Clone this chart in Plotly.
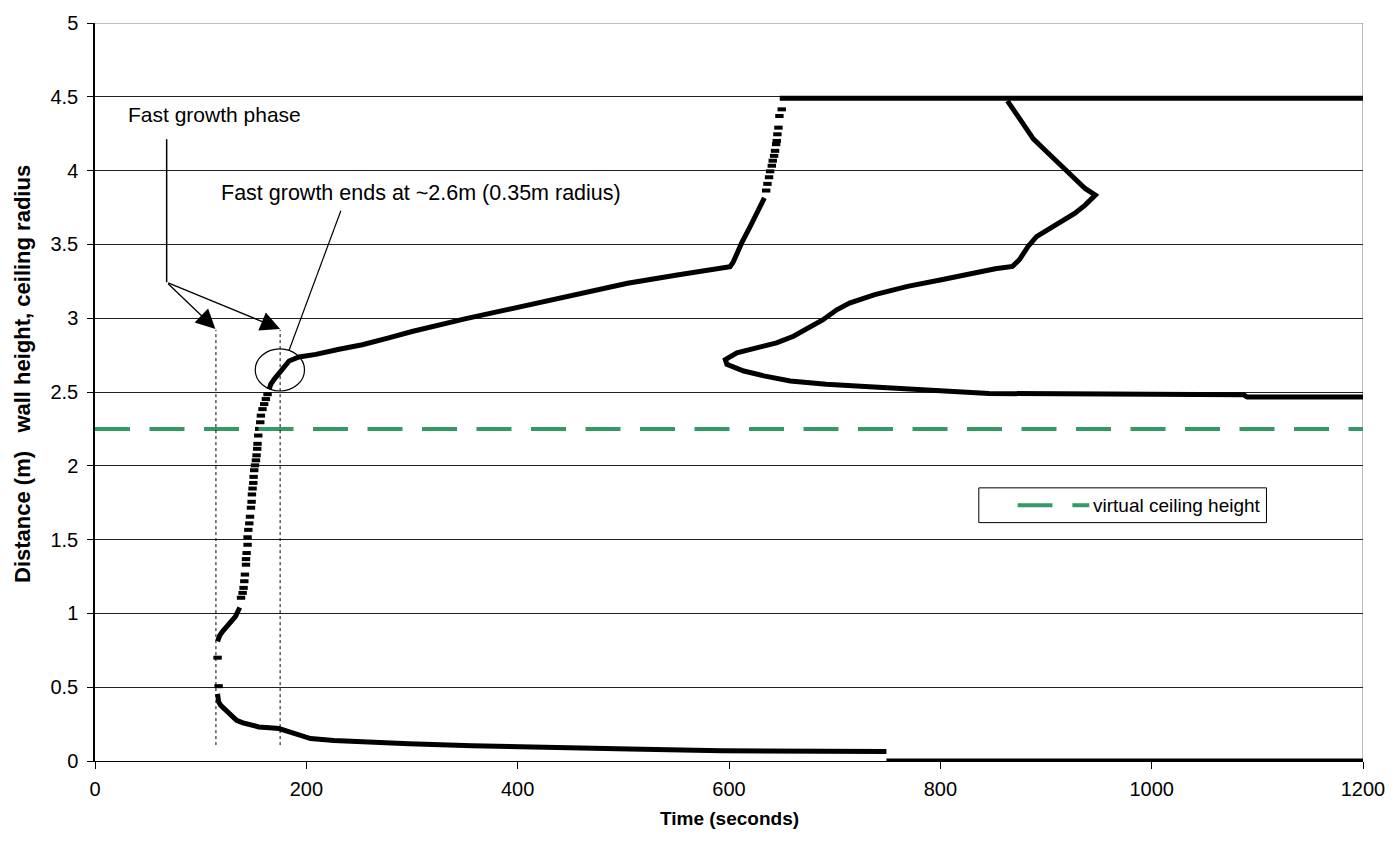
import plotly.graph_objects as go

# ---------------- data ----------------
# wall height: early dense run
wall_a_x = [116, 118, 121, 125, 129, 133, 137]
wall_a_y = [0.81, 0.85, 0.88, 0.91, 0.94, 0.98, 1.04]

# wall height: sparse (fast growth) samples
wall_sparse_x = [117, 116, 138.2, 139.7, 140.6, 141.3, 141.9, 142.9, 142.9, 143.5, 144.4, 144.4,
                 145.1, 146.0, 146.7, 147.6, 148.2, 148.5, 149.1, 149.8, 150.1, 150.7, 151.4,
                 152.3, 152.9, 153.5, 153.8, 154.5, 155.4, 156.4, 157.0, 158.5, 160.1, 161.7,
                 163.3, 635.2, 636.4, 637.9, 638.9, 640.5, 641.4, 642.7, 643.6, 644.6, 645.2,
                 645.8, 646.8, 647.7, 649.9]
wall_sparse_y = [0.507, 0.70, 1.106, 1.139, 1.173, 1.218, 1.263, 1.330, 1.368, 1.409, 1.465, 1.516,
                 1.566, 1.610, 1.655, 1.716, 1.756, 1.806, 1.846, 1.884, 1.925, 1.970, 2.003,
                 2.037, 2.071, 2.115, 2.149, 2.205, 2.250, 2.295, 2.340, 2.384, 2.418, 2.452,
                 2.485, 3.865, 3.910, 3.955, 3.995, 4.033, 4.067, 4.100, 4.134, 4.179, 4.201,
                 4.246, 4.291, 4.370, 4.415]

# wall height: slow growth dense run
wall_b_x = [164.8, 166.4, 169.5, 172.7, 177.4, 183.7, 193, 209, 231, 253, 278, 300, 350, 400,
            457, 504, 551, 601, 604, 607, 612, 620, 629, 633.5]
wall_b_y = [2.519, 2.553, 2.586, 2.613, 2.665, 2.71, 2.737, 2.755, 2.79, 2.82, 2.867, 2.91, 2.995,
            3.075, 3.17, 3.237, 3.293, 3.349, 3.38, 3.43, 3.51, 3.62, 3.74, 3.815]

# wall height reaches ceiling
ceiling_x = [648, 1200]
ceiling_y = [4.49, 4.49]

# second front (returning curve)
front_x = [863.5, 871.7, 879.8, 888, 897.7, 907.5, 917.4, 927.1, 937, 946.7, 937, 927.1, 915.7,
           904.2, 891, 883, 874.8, 868.3, 852, 833, 801, 769, 738, 714, 702, 689, 677, 661, 645,
           626, 607.5, 596.5, 598, 614, 633, 658, 692, 733, 780, 846, 1087, 1090.5, 1200]
front_y = [4.473, 4.383, 4.293, 4.215, 4.148, 4.08, 4.013, 3.946, 3.879, 3.834, 3.766, 3.71, 3.665,
           3.61, 3.553, 3.486, 3.396, 3.351, 3.335, 3.305, 3.26, 3.216, 3.16, 3.102, 3.057, 2.99,
           2.945, 2.878, 2.833, 2.80, 2.766, 2.72, 2.687, 2.642, 2.609, 2.575, 2.553, 2.535, 2.515,
           2.49, 2.481, 2.466, 2.466]

# ceiling radius
radius_x = [116, 117, 119, 124, 129, 134, 140, 149, 155, 165, 174, 184, 196, 204, 226, 256, 297,
            357, 424, 506, 593, 749]
radius_y = [0.455, 0.40, 0.377, 0.343, 0.31, 0.276, 0.258, 0.242, 0.231, 0.226, 0.22, 0.197,
            0.166, 0.152, 0.139, 0.128, 0.117, 0.103, 0.090, 0.081, 0.070, 0.064]
radius_end_x = [749, 1200]
radius_end_y = [0, 0]

# virtual ceiling height
virtual_x = [0, 1200]
virtual_y = [2.25, 2.25]

x_ticks = [0, 200, 400, 600, 800, 1000, 1200]
y_ticks = [0, 0.5, 1, 1.5, 2, 2.5, 3, 3.5, 4, 4.5, 5]

# ---------------- layout helpers ----------------
W, H = 1397, 849
L, R, T, B = 95, 1369, 18, 761
FONT = "Liberation Sans, Arial, sans-serif"


def dx(px):
    return (px - L) * 1200.0 / (R - L)


def dy(py):
    return (B - py) * 5.0 / (B - T)


GREEN = "#339966"
fig = go.Figure()

line_style = dict(color="black", width=5)
for xs, ys in [(wall_a_x, wall_a_y), (wall_b_x, wall_b_y), (ceiling_x, ceiling_y),
               (front_x, front_y), (radius_x, radius_y), (radius_end_x, radius_end_y)]:
    fig.add_trace(go.Scatter(x=xs, y=ys, mode="lines", line=line_style,
                             showlegend=False, hoverinfo="skip"))

fig.add_trace(go.Scatter(x=wall_sparse_x, y=wall_sparse_y, mode="markers",
                         marker=dict(symbol="line-ew", size=6,
                                     line=dict(color="black", width=4)),
                         showlegend=False, hoverinfo="skip"))

fig.add_trace(go.Scatter(x=virtual_x, y=virtual_y, mode="lines", name="virtual ceiling height",
                         line=dict(color=GREEN, width=4, dash="35px,19.5px"),
                         showlegend=False, hoverinfo="skip"))

shapes = []
# plot border (top/right)
shapes.append(dict(type="line", xref="x", yref="y", x0=0, x1=1200, y0=5, y1=5,
                   line=dict(color="#808080", width=1), layer="above"))
shapes.append(dict(type="line", xref="x", yref="y", x0=1200, x1=1200, y0=0, y1=5,
                   line=dict(color="#808080", width=1), layer="below"))
# dotted guide lines
for gx in [dx(216.5), dx(281)]:
    shapes.append(dict(type="line", xref="x", yref="y", x0=gx, x1=gx, y0=dy(745), y1=dy(327),
                       line=dict(color="black", width=1, dash="dot")))
# callout stem
shapes.append(dict(type="line", xref="x", yref="y", x0=dx(167), x1=dx(167), y0=dy(135), y1=dy(279),
                   line=dict(color="black", width=1.5)))
# circle
shapes.append(dict(type="circle", xref="x", yref="y", x0=dx(256), x1=dx(305.5), y0=dy(388.5), y1=dy(346),
                   line=dict(color="black", width=1.2)))
# diagonal pointer
shapes.append(dict(type="line", xref="x", yref="y", x0=dx(290), x1=dx(342), y0=dy(347.5), y1=dy(207),
                   line=dict(color="black", width=1.2)))
# custom legend
lg_l, lg_r, lg_t, lg_b = 983, 1272, 486, 521
shapes.append(dict(type="rect", xref="x", yref="y", x0=dx(lg_l), x1=dx(lg_r), y0=dy(lg_b), y1=dy(lg_t),
                   line=dict(color="black", width=1), fillcolor="white", layer="above"))
lg_mid = (lg_t + lg_b) / 2
for a, b in [(1022, 1057), (1077, 1094)]:
    shapes.append(dict(type="line", xref="x", yref="y", x0=dx(a), x1=dx(b), y0=dy(lg_mid), y1=dy(lg_mid),
                       line=dict(color=GREEN, width=4), layer="above"))

annotations = []
annotations.append(dict(x=dx(1096), y=dy(lg_mid), xref="x", yref="y", text="virtual ceiling height",
                        showarrow=False, xanchor="left", yanchor="middle",
                        font=dict(family=FONT, size=19, color="black")))
annotations.append(dict(x=dx(126), y=dy(110), xref="x", yref="y", text="Fast growth phase",
                        showarrow=False, xanchor="left", yanchor="middle",
                        font=dict(family=FONT, size=21, color="black")))
annotations.append(dict(x=dx(220), y=dy(189), xref="x", yref="y",
                        text="Fast growth ends at ~2.6m (0.35m radius)",
                        showarrow=False, xanchor="left", yanchor="middle",
                        font=dict(family=FONT, size=21.5, color="black")))
for tipx in [216, 281]:
    annotations.append(dict(x=dx(tipx), y=dy(326), xref="x", yref="y",
                            ax=dx(167), ay=dy(279), axref="x", ayref="y",
                            showarrow=True, arrowhead=2, arrowsize=3, arrowwidth=1.3,
                            arrowcolor="black", text=""))
# axis titles
annotations.append(dict(x=0.5, y=(B - 819) / (B - T), xref="paper", yref="paper",
                        text="<b>Time (seconds)</b>", showarrow=False,
                        xanchor="center", yanchor="middle",
                        font=dict(family=FONT, size=19, color="black")))
annotations.append(dict(x=(22 - L) / (R - L), y=(B - 371) / (B - T), xref="paper", yref="paper",
                        text="<b>Distance (m)\u00a0\u00a0\u00a0wall height, ceiling radius</b>",
                        showarrow=False, textangle=-90,
                        xanchor="center", yanchor="middle",
                        font=dict(family=FONT, size=22, color="black")))

fig.update_layout(
    width=W, height=H,
    margin=dict(l=L, r=W - R, t=T, b=H - B, pad=0),
    paper_bgcolor="white", plot_bgcolor="white",
    font=dict(family=FONT, size=20, color="black"),
    shapes=shapes, annotations=annotations,
    showlegend=False,
)
fig.update_xaxes(range=[0, 1200], tickmode="array", tickvals=x_ticks,
                 ticktext=[str(v) for v in x_ticks],
                 showgrid=False, zeroline=False, showline=True, linecolor="black", linewidth=1,
                 ticks="outside", ticklen=7, tickcolor="black", tickwidth=1,
                 ticklabelstandoff=3,
                 tickfont=dict(family=FONT, size=20, color="black"))
fig.update_yaxes(range=[0, 5], tickmode="array", tickvals=y_ticks,
                 ticktext=[("%g" % v) for v in y_ticks],
                 showgrid=True, gridcolor="#202020", gridwidth=1,
                 zeroline=False, showline=True, linecolor="black", linewidth=1.5,
                 ticks="outside", ticklen=6, tickcolor="black", tickwidth=1,
                 ticklabelstandoff=5,
                 tickfont=dict(family=FONT, size=20, color="black"))

fig.write_html("out.html")
